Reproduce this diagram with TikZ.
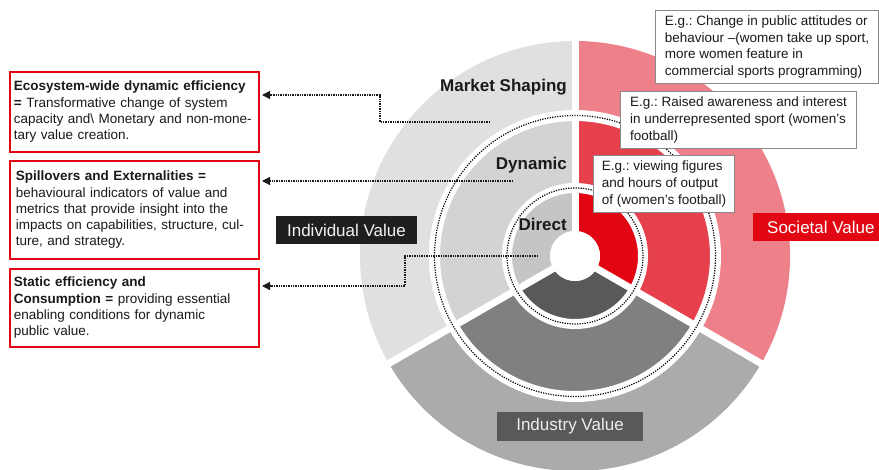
\documentclass[tikz,border=0pt]{standalone}
\usepackage{fontspec}
\setmainfont{Liberation Sans}
\usetikzlibrary{arrows.meta}
\definecolor{indO}{HTML}{E0E0E0}
\definecolor{indM}{HTML}{D3D3D3}
\definecolor{indI}{HTML}{C5C5C5}
\definecolor{insO}{HTML}{ABABAB}
\definecolor{insM}{HTML}{808080}
\definecolor{insI}{HTML}{595959}
\definecolor{socO}{HTML}{EE8089}
\definecolor{socM}{HTML}{E7404D}
\definecolor{socI}{HTML}{E20613}
\definecolor{egborder}{HTML}{8A8A8A}
\definecolor{txt}{HTML}{1A1A1A}
\newcommand\ringsector[5]{%
  \fill[#1] (#2:#5) arc[start angle=#2,end angle=#3,radius=#5] -- (#3:#4)
    arc[start angle=#3,end angle=#2,radius=#4] -- cycle;}
\frenchspacing
\begin{document}
\begin{tikzpicture}[x=1pt,y=-1pt,
  lbox/.style={draw=socI, line width=1.8pt, fill=white, anchor=north west, align=left,
    inner xsep=4pt, text width=241pt, minimum width=249pt, text=txt,
    font=\fontsize{13.5}{16.3}\selectfont},
  egbox/.style={draw=egborder, line width=1pt, fill=white, anchor=north west, align=left,
    inner xsep=0pt, text=txt, font=\fontsize{13.5}{16.6}\selectfont},
  ringlabel/.style={font=\fontsize{17}{20}\selectfont\bfseries, anchor=east, inner sep=0pt, text=txt},
  valbox/.style={font=\fontsize{17}{20}\selectfont, inner sep=0pt},
  conn/.style={densely dotted, line width=1.4pt, txt, -{Triangle[length=8pt,width=8pt]}},
  band/.style={white, line width=#1},
  dotring/.style={black, line width=1.2pt, dash pattern=on 1.2pt off 1.3pt},
]
\useasboundingbox (0,0) rectangle (879,469);
\clip (0,0) rectangle (879,469);
\fill[white] (0,0) rectangle (879,469);

% rings
\begin{scope}[shift={(575,256)}, yscale=-1]
  \ringsector{indO}{90}{210}{146}{215}
  \ringsector{indM}{90}{210}{73}{146}
  \ringsector{indI}{90}{210}{25}{73}
  \ringsector{insO}{210}{330}{146}{215}
  \ringsector{insM}{210}{330}{73}{146}
  \ringsector{insI}{210}{330}{25}{73}
  \ringsector{socO}{-30}{90}{146}{215}
  \ringsector{socM}{-30}{90}{73}{146}
  \ringsector{socI}{-30}{90}{25}{73}
  \draw[band=7pt] (0,0) -- (90:225);
  \draw[band=7pt] (0,0) -- (210:225);
  \draw[band=7pt] (0,0) -- (330:225);
  \draw[band=10pt] (0,0) circle[radius=68];
  \draw[band=11pt] (0,0) circle[radius=140.5];
  \draw[dotring] (0,0) circle[radius=68];
  \draw[dotring] (0,0) circle[radius=140.5];
  \fill[white] (0,0) circle[radius=25];
\end{scope}

% ring labels
\node[ringlabel] (ms) at (567,87) {Market Shaping};
\node[ringlabel] (dyn) at (567,165) {Dynamic};
\node[ringlabel] (dir) at (567,224) {Direct};

% value boxes
\node[valbox, fill=black!88, text=white!95!black, minimum width=141pt, minimum height=28pt] (indv) at (346.5,230) {Individual Value};
\node[valbox, fill=insI, text=white!93!black, minimum width=146pt, minimum height=29pt] (insv) at (570,426.5) {Industry Value};
\node[valbox, fill=socI, text=white, anchor=west, inner xsep=14pt, minimum height=28pt] (socv) at (753,227) {Societal Value};

% example boxes
\node[egbox, minimum width=223pt, minimum height=73pt] (eg1) at (655,10)
  {E.g.: Change in public attitudes or\\behaviour --(women take up sport,\\more women feature in\\commercial sports programming)};
\node[egbox, minimum width=236pt, minimum height=57pt] (eg2) at (620,91)
  {E.g.: Raised awareness and interest\\in underrepresented sport (women's\\football)};
\node[egbox, minimum width=141pt, minimum height=57pt] (eg3) at (593,155)
  {E.g.: viewing figures\\and hours of output\\of (women's football)};

% left boxes
\node[lbox, minimum height=80pt] (ba) at (9,71)
  {\textbf{Ecosystem-wide dynamic efficiency}\\\textbf{=} Transformative change of system\\capacity and\textbackslash{} Monetary and non-mone-\\tary value creation.};
\node[lbox, minimum height=98pt, inner xsep=6pt, text width=237pt] (bb) at (9,160)
  {\textbf{Spillovers and Externalities =}\\behavioural indicators of value and\\metrics that provide insight into the\\impacts on capabilities, structure, cul-\\ture, and strategy.};
\node[lbox, minimum height=78pt] (bc) at (9,268)
  {\textbf{Static efficiency and}\\\textbf{Consumption =} providing essential\\enabling conditions for dynamic\\public value.};

% connectors
\coordinate (sA) at (490,122);
\coordinate (sB) at (513,181);
\coordinate (sC) at (538,256);
\coordinate (eA) at (262,95);
\coordinate (eB) at (262,181);
\coordinate (eC) at (262,286);
\draw[conn] (sA) -- (380,122) -- (380,95) -- (eA);
\draw[conn] (sB) -- (eB);
\draw[conn] (sC) -- (405,256) -- (405,286) -- (eC);
\end{tikzpicture}
\end{document}
